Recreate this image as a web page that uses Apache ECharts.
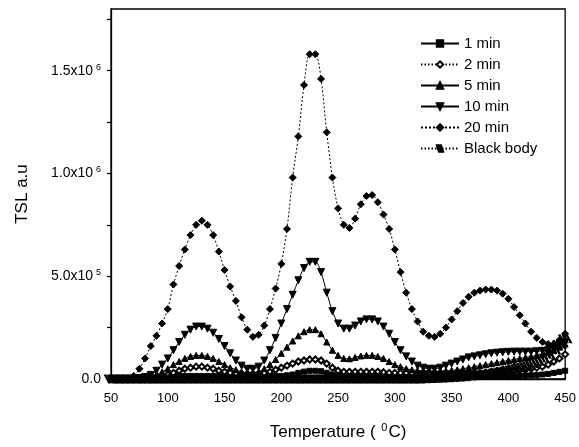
<!DOCTYPE html>
<html>
<head>
<meta charset="utf-8">
<script src="https://cdn.jsdelivr.net/npm/echarts@6/dist/echarts.min.js"></script>
<style>
html,body{margin:0;padding:0;background:#fff;}
#chart{width:579px;height:447px;}
</style>
</head>
<body>
<div id="chart"></div>
<script>
// Temperature (°C), every 5 degrees
var temps = [50,55,60,65,70,75,80,85,90,95,100,105,110,115,120,125,130,135,140,145,150,155,160,165,170,175,180,185,190,195,200,205,210,215,220,225,230,235,240,245,250,255,260,265,270,275,280,285,290,295,300,305,310,315,320,325,330,335,340,345,350,355,360,365,370,375,380,385,390,395,400,405,410,415,420,425,430,435,440,445,450];

// TSL values in units of 1e5 a.u.
var min1 = [0,0,0,0,0,0,0,0.02,0.05,0.08,
  0.1,0.12,0.15,0.15,0.15,0.15,0.15,0.15,0.15,0.15,
  0.15,0.15,0.15,0.15,0.15,0.15,0.15,0.15,0.15,0.15,
  0.15,0.18,0.22,0.3,0.36,0.4,0.4,0.38,0.3,0.22,
  0.18,0.15,0.15,0.15,0.15,0.15,0.15,0.15,0.15,0.15,
  0.15,0.15,0.15,0.15,0.15,0.15,0.15,0.15,0.15,0.15,
  0.15,0.15,0.15,0.15,0.15,0.15,0.15,0.15,0.15,0.15,
  0.15,0.15,0.16,0.17,0.18,0.2,0.22,0.25,0.3,0.35,0.4];

var min2 = [0,0,0,0,0,0,0,0.05,0.1,0.15,
  0.2,0.3,0.4,0.5,0.55,0.6,0.6,0.55,0.5,0.4,
  0.35,0.3,0.25,0.25,0.25,0.25,0.25,0.3,0.35,0.45,
  0.55,0.65,0.75,0.85,0.9,0.95,0.95,0.9,0.75,0.55,
  0.4,0.35,0.35,0.35,0.35,0.35,0.35,0.35,0.33,0.3,
  0.3,0.3,0.3,0.3,0.3,0.3,0.3,0.3,0.3,0.3,
  0.3,0.3,0.3,0.3,0.3,0.3,0.3,0.32,0.34,0.36,
  0.38,0.4,0.42,0.45,0.5,0.55,0.6,0.7,0.85,1.0,1.2];

var min5 = [0,0,0,0,0,0,0.05,0.1,0.2,0.35,
  0.5,0.7,0.85,1.0,1.1,1.15,1.15,1.1,1.0,0.85,
  0.7,0.55,0.45,0.35,0.3,0.3,0.35,0.5,0.7,0.95,
  1.25,1.55,1.85,2.1,2.3,2.4,2.4,2.2,1.8,1.4,
  1.15,1.0,0.98,1.05,1.12,1.15,1.15,1.1,1.0,0.85,
  0.7,0.6,0.5,0.45,0.42,0.4,0.4,0.38,0.38,0.4,
  0.42,0.45,0.5,0.55,0.6,0.65,0.7,0.75,0.8,0.85,
  0.9,0.95,1.0,1.05,1.1,1.15,1.2,1.3,1.4,1.55,1.7];

var min10 = [0,0,0,0,0,0.05,0.1,0.2,0.4,0.7,
  1.0,1.4,1.8,2.15,2.4,2.55,2.55,2.45,2.25,1.95,
  1.6,1.25,0.9,0.65,0.5,0.5,0.6,0.9,1.4,2.0,
  2.7,3.4,4.1,4.8,5.4,5.7,5.7,5.2,4.2,3.3,
  2.7,2.45,2.45,2.6,2.8,2.9,2.9,2.8,2.55,2.2,
  1.8,1.4,1.1,0.85,0.65,0.55,0.5,0.5,0.55,0.65,
  0.75,0.85,0.95,1.05,1.1,1.15,1.2,1.25,1.28,1.3,
  1.32,1.33,1.33,1.33,1.33,1.35,1.37,1.4,1.5,1.65,1.8];

var min20 = [0,0,0,0.02,0.15,0.5,1.0,1.6,2.1,2.7,
  3.4,4.6,5.5,6.3,7.0,7.5,7.7,7.5,7.0,6.2,
  5.3,4.5,3.8,3.0,2.4,2.05,2.15,2.6,3.4,4.4,
  5.6,7.3,9.8,11.8,14.3,15.8,15.8,14.6,12.0,9.8,
  8.3,7.5,7.35,7.8,8.5,8.9,8.95,8.6,8.0,7.3,
  6.3,5.2,4.2,3.4,2.8,2.3,2.1,2.05,2.2,2.5,
  2.9,3.3,3.7,4.0,4.2,4.3,4.35,4.35,4.3,4.15,
  3.9,3.5,3.1,2.7,2.3,2.0,1.8,1.7,1.7,1.9,2.2];

var blackBody = [0,0,0,0,0,0,0,0,0,0,
  0,0,0,0,0,0,0,0,0,0,
  0,0,0,0,0,0,0,0,0,0,
  0,0,0,0,0,0,0,0,0,0,
  0,0,0,0,0,0,0,0,0,0,
  0,0,0,0,0,0.01,0.02,0.03,0.04,0.05,
  0.07,0.09,0.11,0.14,0.17,0.2,0.24,0.28,0.33,0.38,
  0.44,0.5,0.57,0.65,0.75,0.87,1.02,1.2,1.42,1.67,1.95];

var seriesNames = ['1 min','2 min','5 min','10 min','20 min','Black body'];

// y tick labels (values in 1e5 units)
var yTickValues = [0, 5, 10, 15];
var yTickMantissa = ['0.0', '5.0x10', '1.0x10', '1.5x10'];
var yTickExponent = ['', '5', '6', '6'];

var xTickLabels = ['50','100','150','200','250','300','350','400','450'];

function pairs(ys){ return temps.map(function(t,i){ return [t, ys[i]]; }); }

var FONT = 'Liberation Sans';
var downTri = 'path://M0,0L10,0L5,9Z';
var hatch = 'path://M0,0L2,0L8,10L6,10Z M5,0L7,0L13,10L11,10Z M10,0L12,0L18,10L16,10Z';

function mk(name, data, symbol, size, lineType){
  return {
    name: name, type: 'line', data: pairs(data), smooth: 0.3,
    symbol: symbol, symbolSize: size, showSymbol: true,
    lineStyle: {color: '#000', width: 1, type: lineType},
    itemStyle: {color: '#000', borderColor: '#000', borderWidth: 1},
    animation: false
  };
}

var chart = echarts.init(document.getElementById('chart'), null, {renderer: 'canvas'});
chart.setOption({
  backgroundColor: '#fff',
  animation: false,
  grid: {left: 111, right: 7, top: 9, bottom: 62, show: true, borderColor: '#000', borderWidth: 1.3},
  legend: {
    orient: 'vertical', left: 420, top: 36, padding: 0,
    itemWidth: 38, itemHeight: 8, itemGap: 6,
    textStyle: {fontFamily: FONT, fontSize: 15, color: '#000', lineHeight: 15},
    data: seriesNames
  },
  xAxis: {
    type: 'value', min: 50, max: 450, interval: 50,
    name: '{a|Temperature ( }{s|0}{a|C)}', nameLocation: 'middle', nameGap: 43,
    nameTextStyle: {rich: {
      a: {fontFamily: FONT, fontSize: 17, color: '#000', lineHeight: 20},
      s: {fontFamily: FONT, fontSize: 11, color: '#000', verticalAlign: 'top', lineHeight: 20, padding: [0,1,9,1]}
    }},
    axisLine: {lineStyle: {color: '#000', width: 1.3}},
    axisTick: {inside: true, length: 5, lineStyle: {color: '#000', width: 1.2}},
    minorTick: {show: true, splitNumber: 2, length: 3, lineStyle: {color: '#000', width: 1.2}},
    axisLabel: {
      margin: 13, fontFamily: FONT, fontSize: 13, color: '#000',
      formatter: function(v){ var i = Math.round((v-50)/50); return (Math.abs(v-50-i*50)<1e-6 && xTickLabels[i]) ? xTickLabels[i] : ''; }
    },
    splitLine: {show: false}
  },
  yAxis: {
    type: 'value', min: 0, max: 18, interval: 2.5,
    name: 'TSL a.u', nameLocation: 'middle', nameGap: 80, nameRotate: 90,
    nameTextStyle: {fontFamily: FONT, fontSize: 17, color: '#000'},
    axisLine: {lineStyle: {color: '#000', width: 1.3}},
    axisTick: {inside: false, length: 4, lineStyle: {color: '#000', width: 1.2}},
    axisLabel: {
      margin: 10, showMaxLabel: false,
      fontFamily: FONT, fontSize: 14, color: '#000',
      formatter: function(v){
        var i = yTickValues.indexOf(v);
        if (i < 0) return '';
        return yTickExponent[i] ? '{m|' + yTickMantissa[i] + '}{e|' + yTickExponent[i] + '}' : '{m|' + yTickMantissa[i] + '}';
      },
      rich: {
        m: {fontFamily: FONT, fontSize: 14, color: '#000', lineHeight: 16},
        e: {fontFamily: FONT, fontSize: 9, color: '#000', verticalAlign: 'top', lineHeight: 16, padding: [0,0,7,3]}
      }
    },
    splitLine: {show: false}
  },
  series: [
    mk('1 min', min1, 'rect', 5, 'solid'),
    mk('2 min', min2, 'emptyDiamond', 6, [1.5,2]),
    mk('5 min', min5, 'triangle', 6, 'solid'),
    mk('10 min', min10, downTri, 7, 'solid'),
    mk('20 min', min20, 'diamond', 7, [2,2]),
    mk('Black body', blackBody, hatch, [13,8], [1.5,2])
  ]
});
</script>
</body>
</html>
